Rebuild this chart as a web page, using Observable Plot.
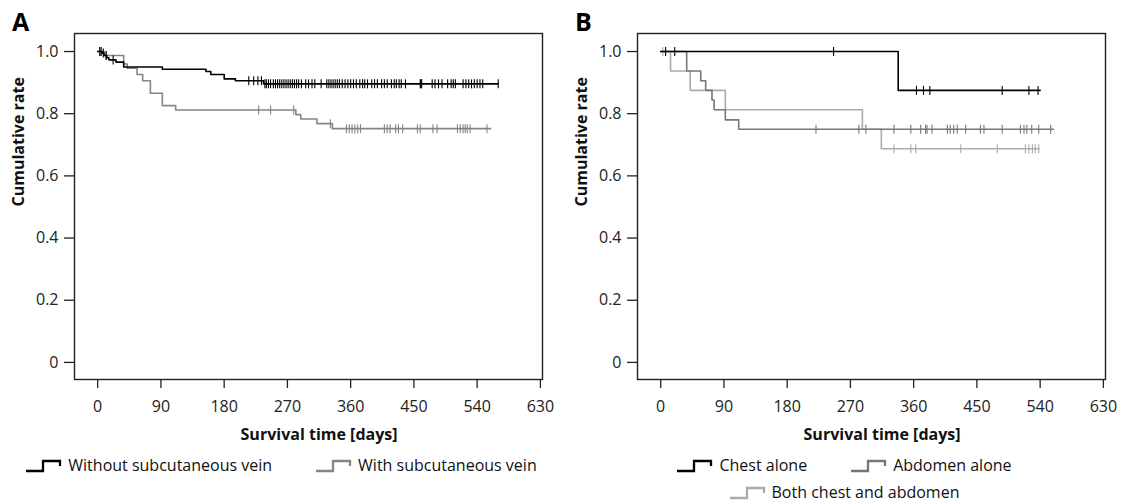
<!DOCTYPE html>
<html><head><meta charset="utf-8">
<script src="https://cdn.jsdelivr.net/npm/d3@7"></script>
<script src="https://cdn.jsdelivr.net/npm/@observablehq/plot@0.6"></script>
<style>
body{margin:0;background:#fff;font-family:"Open Sans",sans-serif;color:#111;}
#wrap{display:flex;width:1126px;}
.panel{position:relative;width:563px;}
.letter{position:absolute;left:12px;top:9px;font:bold 25px/25px "Open Sans",sans-serif;color:#000;}
.legend{display:flex;flex-wrap:wrap;justify-content:center;column-gap:44px;font-size:16px;line-height:27px;color:#111;padding:0 6px;}
.item{display:flex;align-items:center;gap:6px;white-space:nowrap;}
.item svg{display:block;}
</style>
</head><body>
<div id="wrap"></div>
<script>
// ---- shared axis data ----
const xTicks = [0, 90, 180, 270, 360, 450, 540, 630];
const yTicks = [0, 0.2, 0.4, 0.6, 0.8, 1.0];
const yTickLabels = ["0", "0.2", "0.4", "0.6", "0.8", "1.0"];
const xLabel = "Survival time [days]";
const yLabel = "Cumulative rate";
const xDomain = [-33, 633];
const yDomain = [-0.055, 1.058];

// ---- Panel A ----
const aNames = ["Without subcutaneous vein", "With subcutaneous vein"];
const aColors = ["#000000", "#858585"];
const aWithoutT = [0, 6, 9, 13, 16, 26, 37, 92, 154, 161, 180, 196, 236, 570];
const aWithoutS = [1.0, 0.995, 0.987, 0.98, 0.973, 0.966, 0.95, 0.943, 0.936, 0.926, 0.912, 0.906, 0.896, 0.896];
const aWithoutCensor = [3, 5, 8, 12, 22, 215, 222, 228, 233, 238, 240, 243, 246, 250, 253, 256, 259, 262, 265, 268, 271, 274, 277, 280, 283, 286, 290, 296, 300, 305, 309, 318, 326, 329, 332, 335, 338, 341, 344, 348, 352, 356, 360, 364, 368, 373, 377, 380, 384, 390, 394, 398, 404, 408, 412, 418, 422, 425, 429, 432, 438, 459, 460, 461, 476, 480, 485, 490, 498, 503, 506, 509, 520, 524, 528, 532, 536, 540, 544, 548, 570];
const aWithT = [0, 9, 37, 42, 56, 64, 75, 92, 111, 282, 289, 312, 334, 559];
const aWithS = [1.0, 0.987, 0.96, 0.946, 0.926, 0.906, 0.866, 0.826, 0.812, 0.797, 0.783, 0.768, 0.752, 0.752];
const aWithCensor = [3, 12, 229, 246, 279, 331, 354, 358, 362, 366, 370, 374, 408, 412, 416, 424, 428, 434, 455, 459, 477, 483, 512, 516, 520, 523, 526, 530, 554];

// ---- Panel B ----
const bNames = ["Chest alone", "Abdomen alone", "Both chest and abdomen"];
const bColors = ["#000000", "#777777", "#ababab"];
const bChestT = [0, 338, 540];
const bChestS = [1.0, 0.875, 0.875];
const bChestCensor = [7, 20, 246, 364, 374, 383, 486, 524, 537];
const bAbdT = [0, 37, 57, 64, 73, 76, 92, 111, 559];
const bAbdS = [1.0, 0.9375, 0.906, 0.875, 0.844, 0.8125, 0.78, 0.75, 0.75];
const bAbdCensor = [221, 282, 292, 332, 356, 370, 377, 379, 386, 408, 412, 417, 422, 434, 455, 460, 486, 512, 517, 521, 528, 538, 555];
const bBothT = [0, 14, 42, 92, 287, 314, 538];
const bBothS = [1.0, 0.9375, 0.875, 0.8125, 0.75, 0.6875, 0.6875];
const bBothCensor = [3, 332, 356, 363, 427, 479, 519, 524, 529, 533, 538];

// ---- helpers ----
const vbar = {draw(ctx, size) { const r = Math.sqrt(size / Math.PI); ctx.moveTo(0, -r); ctx.lineTo(0, r); }};

function series(name, color, T, S, C) {
  const steps = T.map((t, i) => ({t, s: S[i]}));
  const surv = (ct) => { let v = S[0]; for (let i = 0; i < T.length; i++) if (T[i] <= ct) v = S[i]; return v; };
  const cens = C.map(t => ({t, s: surv(t)}));
  return {name, color, steps, cens};
}

function panel(letter, list, drawOrder) {
  const div = document.createElement("div");
  div.className = "panel";
  const marks = [
    Plot.frame({stroke: "#222", strokeWidth: 1.4}),
    Plot.axisX({ticks: xTicks, tickSize: 9, tickPadding: 12, label: null, tickFormat: d => String(d), stroke: "#222", strokeWidth: 1.3}),
    Plot.axisY({ticks: yTicks, tickSize: 10, tickPadding: 6, label: null, tickFormat: d => yTickLabels[yTicks.indexOf(d)], stroke: "#222", strokeWidth: 1.3})
  ];
  for (const i of drawOrder) {
    const sr = list[i];
    marks.push(Plot.line(sr.steps, {x: "t", y: "s", stroke: sr.color, strokeWidth: 1.6, curve: "step-after"}));
    marks.push(Plot.dot(sr.cens, {x: "t", y: "s", symbol: vbar, r: 4.5, stroke: sr.color, strokeWidth: 1.1, fill: "none"}));
  }
  marks.push(Plot.text([xLabel], {x: d3.mean([xTicks[0], xTicks[xTicks.length - 1]]), frameAnchor: "bottom", dy: 60, fontWeight: "bold", fontSize: 16, fill: "#111"}));
  marks.push(Plot.text([yLabel], {frameAnchor: "left", dx: -56, rotate: -90, fontWeight: "bold", fontSize: 16, fill: "#111"}));
  const chart = Plot.plot({
    width: 563, height: 452,
    marginLeft: 74, marginRight: 21, marginTop: 33, marginBottom: 73,
    style: {fontFamily: "'Open Sans', sans-serif", fontSize: "16px", color: "#222", background: "transparent"},
    x: {domain: xDomain},
    y: {domain: yDomain},
    marks
  });
  div.appendChild(chart);
  const L = document.createElement("div");
  L.className = "letter";
  L.textContent = letter;
  div.appendChild(L);
  const leg = document.createElement("div");
  leg.className = "legend";
  for (const sr of list) {
    const it = document.createElement("div");
    it.className = "item";
    it.innerHTML = `<svg width="36" height="14"><path d="M0,12 H17 V2 H34 V7" fill="none" stroke="${sr.color}" stroke-width="2.3"/></svg><span>${sr.name}</span>`;
    leg.appendChild(it);
  }
  div.appendChild(leg);
  document.getElementById("wrap").appendChild(div);
}

panel("A", [
  series(aNames[0], aColors[0], aWithoutT, aWithoutS, aWithoutCensor),
  series(aNames[1], aColors[1], aWithT, aWithS, aWithCensor)
], [1, 0]);

panel("B", [
  series(bNames[0], bColors[0], bChestT, bChestS, bChestCensor),
  series(bNames[1], bColors[1], bAbdT, bAbdS, bAbdCensor),
  series(bNames[2], bColors[2], bBothT, bBothS, bBothCensor)
], [2, 1, 0]);
</script>
</body></html>
